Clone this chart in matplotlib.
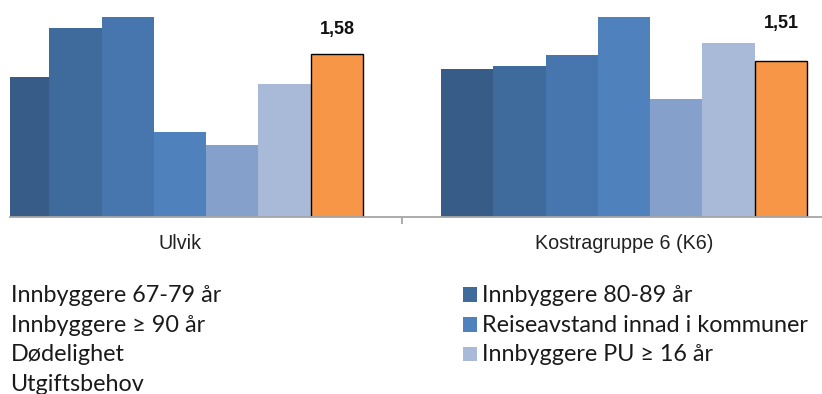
import matplotlib
matplotlib.use("Agg")
import matplotlib.pyplot as plt
from matplotlib.patches import Rectangle
import numpy as np

# Data
categories = ["Ulvik", "Kostragruppe 6 (K6)"]
series_names = [
    "Innbyggere 67-79 år",
    "Innbyggere 80-89 år",
    "Innbyggere ≥ 90 år",
    "Reiseavstand innad i kommuner",
    "Dødelighet",
    "Innbyggere PU ≥ 16 år",
    "Utgiftsbehov",
]
ulvik_values = [1.36, 1.83, 2.02, 0.82, 0.70, 1.29, 1.58]
k6_values = [1.43, 1.46, 1.57, 2.05, 1.14, 1.69, 1.51]
value_labels = ["1,58", "1,51"]

colors = ["#375C87", "#3E6A9C", "#4775AE", "#4F81BD", "#85A0CB", "#A9B9D8", "#F79646"]
label_lift = [0.15, 0.28]  # gap between bar top and its value label

W, H, DPI = 822, 394, 100
fig = plt.figure(figsize=(W / DPI, H / DPI), dpi=DPI)

# Plot area (pixel geometry converted to figure fractions)
left_px, right_px, top_px, base_px = 10, 822, 17, 217
ax = fig.add_axes([left_px / W, (H - base_px) / H,
                   (right_px - left_px) / W, (base_px - top_px) / H])

x = np.arange(len(categories))
bar_w = 0.1178
for i, name in enumerate(series_names):
    vals = [ulvik_values[i], k6_values[i]]
    is_total = (i == len(series_names) - 1)
    ax.bar(x + (i - 3) * bar_w, vals, width=bar_w, color=colors[i],
           edgecolor="black" if is_total else "none",
           linewidth=1.0 if is_total else 0, label=name)
    if is_total:
        for xi, v, lab, lift in zip(x, vals, value_labels, label_lift):
            ax.text(xi + (i - 3) * bar_w, v + lift, lab, ha="center", va="bottom",
                    fontsize=13, fontweight="bold", family="Liberation Sans",
                    color="#111111", clip_on=False)

ax.set_xlim(-0.383, 1.446)
ax.set_ylim(0, 1.938)
for s in ["top", "right", "left"]:
    ax.spines[s].set_visible(False)
ax.spines["bottom"].set_color("#A6A6A6")
ax.spines["bottom"].set_linewidth(1.3)
ax.set_yticks([])
ax.set_xticks(x)
ax.set_xticklabels(categories, fontsize=14.2, family="Liberation Sans", color="#222222")
ax.tick_params(axis="x", which="major", length=0, pad=12)
ax.set_xticks([0.5], minor=True)
ax.tick_params(axis="x", which="minor", length=5, color="#A6A6A6", width=1.3)

# Legend drawn in a pixel-coordinate axes below the plot
lax = fig.add_axes([left_px / W, 0, (W - left_px) / W, (H - base_px) / H])
lax.set_xlim(left_px, W)
lax.set_ylim(H, base_px)
lax.axis("off")
col_text_x = [12, 483.3]
row_base = [301.7, 331.5, 361.3, 391.2]
box = 14.5
for k, name in enumerate(series_names):
    row, col = divmod(k, 2)
    tx = col_text_x[col]
    yb = row_base[row]
    lax.add_patch(Rectangle((tx - 6 - box, yb - box), box, box,
                            facecolor=colors[k], edgecolor="none", clip_on=True))
    lax.text(tx - 1.5, yb, name, fontsize=16.8, family="Lato", va="baseline",
             ha="left", color="#1a1a1a", clip_on=True)

fig.savefig("out.png", dpi=DPI)
